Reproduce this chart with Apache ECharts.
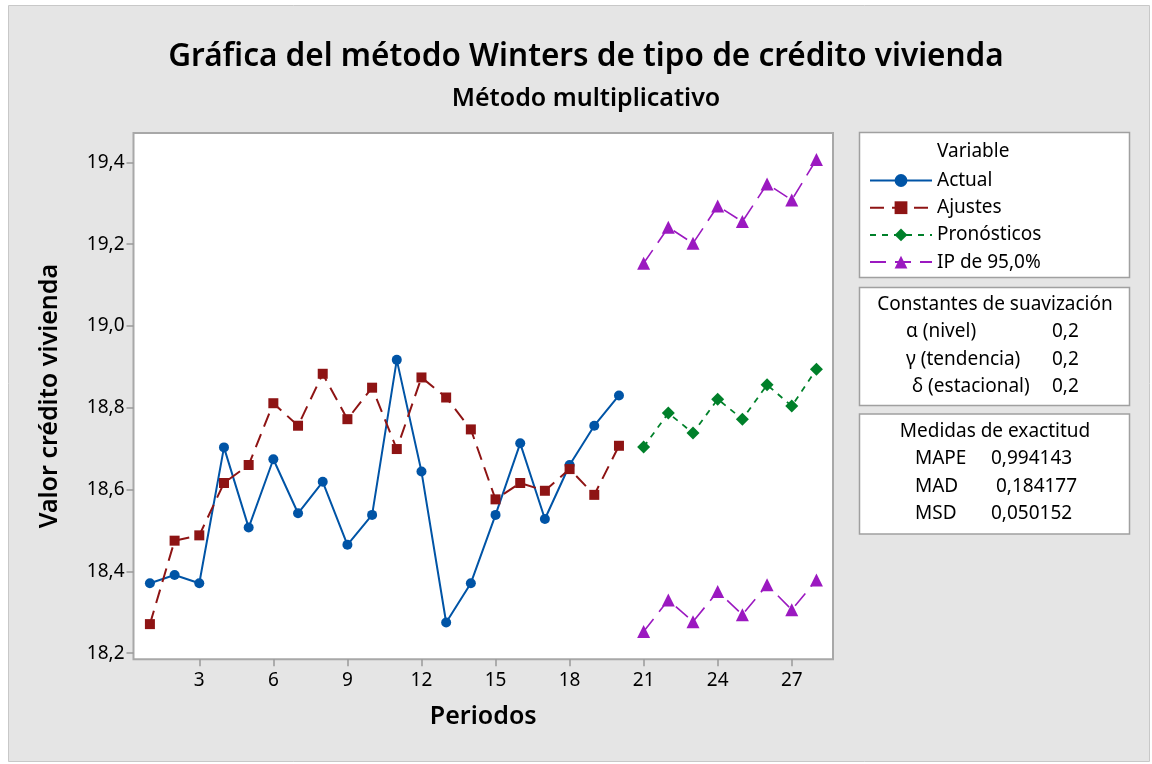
<!DOCTYPE html>
<html>
<head>
  <meta charset="utf-8">
  <title>Winters crédito vivienda</title>
  <script src="https://cdn.jsdelivr.net/npm/echarts@6/dist/echarts.min.js"></script>
  <style>
    html, body { margin: 0; padding: 0; background: #ffffff; }
    #chart { width: 1152px; height: 764px; }
  </style>
</head>
<body>
  <div id="chart"></div>
  <script>
    // datos
    var periodsFit = [1, 2, 3, 4, 5, 6, 7, 8, 9, 10, 11, 12, 13, 14, 15, 16, 17, 18, 19, 20];
    var periodsFc = [21, 22, 23, 24, 25, 26, 27, 28];
    var actual = [18.371, 18.391, 18.371, 18.703, 18.507, 18.674, 18.542, 18.619, 18.465, 18.538,
                  18.917, 18.644, 18.275, 18.371, 18.538, 18.713, 18.528, 18.660, 18.756, 18.830];
    var fits = [18.271, 18.475, 18.488, 18.616, 18.660, 18.811, 18.756, 18.883, 18.772, 18.849,
                18.699, 18.874, 18.825, 18.747, 18.576, 18.616, 18.597, 18.650, 18.587, 18.707];
    var forecast = [18.704, 18.787, 18.738, 18.821, 18.772, 18.856, 18.804, 18.894];
    var upper = [19.153, 19.241, 19.202, 19.293, 19.255, 19.347, 19.308, 19.407];
    var lower = [18.253, 18.330, 18.277, 18.351, 18.294, 18.367, 18.306, 18.379];
    var xTicks = [3, 6, 9, 12, 15, 18, 21, 24, 27];
    var yTicks = [18.2, 18.4, 18.6, 18.8, 19.0, 19.2, 19.4];
    var smoothing = [['α (nivel)', '0,2'], ['γ (tendencia)', '0,2'], ['δ (estacional)', '0,2']];
    var accuracy = [['MAPE', '0,994143'], ['MAD', ' 0,184177'], ['MSD', '0,050152']];

    var FONT = "'Noto Sans', 'Open Sans', sans-serif";
    var BOXFONT = '19px ' + FONT;

    function pairs(xs, ys) {
      var out = [];
      for (var i = 0; i < xs.length; i++) out.push([xs[i], ys[i]]);
      return out;
    }

    var chart = echarts.init(document.getElementById('chart'));

    // cajas de la derecha
    var graphics = [
      { type: 'rect', z: -100, shape: { x: 8.5, y: 5.5, width: 1141, height: 756 },
        style: { fill: '#e5e5e5', stroke: '#c8c8c8', lineWidth: 1 } },
      { type: 'rect', shape: { x: 859.5, y: 132.5, width: 270, height: 145 },
        style: { fill: '#fff', stroke: '#a0a0a0', lineWidth: 1.5 } },
      { type: 'rect', shape: { x: 859.5, y: 287.5, width: 270, height: 118 },
        style: { fill: '#fff', stroke: '#a0a0a0', lineWidth: 1.5 } },
      { type: 'rect', shape: { x: 859.5, y: 414, width: 270, height: 120 },
        style: { fill: '#fff', stroke: '#a0a0a0', lineWidth: 1.5 } },
      { type: 'text', x: 937, y: 152, z: 10,
        style: { text: 'Variable', font: BOXFONT, fill: '#000', verticalAlign: 'middle' } },
      { type: 'text', x: 995, y: 305, z: 10,
        style: { text: 'Constantes de suavización', font: BOXFONT, fill: '#000', align: 'center', verticalAlign: 'middle' } },
      { type: 'text', x: 995, y: 432, z: 10,
        style: { text: 'Medidas de exactitud', font: BOXFONT, fill: '#000', align: 'center', verticalAlign: 'middle' } }
    ];
    var smX = [906, 906, 912];
    for (var i = 0; i < smoothing.length; i++) {
      graphics.push({ type: 'text', x: smX[i], y: 332 + i * 27.5, z: 10,
        style: { text: smoothing[i][0], font: BOXFONT, fill: '#000', verticalAlign: 'middle' } });
      graphics.push({ type: 'text', x: 1052, y: 332 + i * 27.5, z: 10,
        style: { text: smoothing[i][1], font: BOXFONT, fill: '#000', verticalAlign: 'middle' } });
    }
    for (var j = 0; j < accuracy.length; j++) {
      graphics.push({ type: 'text', x: 915, y: 459 + j * 27.5, z: 10,
        style: { text: accuracy[j][0], font: BOXFONT, fill: '#000', verticalAlign: 'middle' } });
      graphics.push({ type: 'text', x: 991, y: 459 + j * 27.5, z: 10,
        style: { text: accuracy[j][1], font: BOXFONT, fill: '#000', verticalAlign: 'middle' } });
    }

    var option = {
      backgroundColor: '#ffffff',
      animation: false,
      textStyle: { fontFamily: FONT },
      title: [
        { text: 'Gráfica del método Winters de tipo de crédito vivienda', left: 581, top: 36, textAlign: 'center',
          textStyle: { fontSize: 31.5, fontWeight: 600, color: '#000', fontFamily: FONT } },
        { text: 'Método multiplicativo', left: 581, top: 81, textAlign: 'center',
          textStyle: { fontSize: 25, fontWeight: 600, color: '#000', fontFamily: FONT } }
      ],
      grid: {
        left: 133.5, top: 133, width: 699.5, height: 526.3,
        show: true, backgroundColor: '#ffffff', borderColor: '#a8a8a8', borderWidth: 2
      },
      legend: {
        orient: 'vertical', left: 864, top: 166,
        itemWidth: 62, itemHeight: 16, itemGap: 8.2,
        textStyle: { fontSize: 19, color: '#000', fontFamily: FONT },
        data: ['Actual', 'Ajustes', 'Pronósticos', 'IP de 95,0%']
      },
      xAxis: {
        type: 'value', min: 0.335, max: 28.67,
        name: 'Periodos', nameLocation: 'middle', nameGap: 45,
        nameTextStyle: { fontSize: 25, fontWeight: 600, color: '#000', fontFamily: FONT },
        axisLine: { show: false },
        axisTick: { show: true, length: 7, lineStyle: { color: '#999', width: 1.5 }, customValues: xTicks },
        axisLabel: { fontSize: 19, color: '#000', margin: 12, customValues: xTicks, fontFamily: FONT },
        splitLine: { show: false }
      },
      yAxis: {
        type: 'value', min: 18.185, max: 19.4716,
        name: 'Valor crédito vivienda', nameLocation: 'middle', nameGap: 71,
        nameTextStyle: { fontSize: 25, fontWeight: 600, color: '#000', fontFamily: FONT },
        axisLine: { show: false },
        axisTick: { show: true, length: 7, lineStyle: { color: '#999', width: 1.5 }, customValues: yTicks },
        axisLabel: {
          fontSize: 19, color: '#000', margin: 9, customValues: yTicks, fontFamily: FONT,
          formatter: function (v) { return v.toFixed(1).replace('.', ','); }
        },
        splitLine: { show: false }
      },
      series: [
        {
          name: 'Actual', type: 'line', data: pairs(periodsFit, actual),
          symbol: 'circle', symbolSize: 10,
          lineStyle: { color: '#0054a6', width: 2 },
          itemStyle: { color: '#0054a6' }
        },
        {
          name: 'Ajustes', type: 'line', data: pairs(periodsFit, fits),
          symbol: 'rect', symbolSize: 10,
          lineStyle: { color: '#8e1414', width: 2, type: [14, 8] },
          itemStyle: { color: '#8e1414' }
        },
        {
          name: 'Pronósticos', type: 'line', data: pairs(periodsFc, forecast),
          symbol: 'diamond', symbolSize: 13,
          lineStyle: { color: '#00802a', width: 1.8, type: [6, 6] },
          itemStyle: { color: '#00802a' }
        },
        {
          name: 'IP de 95,0%', type: 'line', data: pairs(periodsFc, upper),
          symbol: 'triangle', symbolSize: 13,
          lineStyle: { color: '#9b19c0', width: 1.6, type: [16, 9] },
          itemStyle: { color: '#9b19c0' }
        },
        {
          name: 'IP de 95,0%', type: 'line', data: pairs(periodsFc, lower),
          symbol: 'triangle', symbolSize: 13,
          lineStyle: { color: '#9b19c0', width: 1.6, type: [16, 9] },
          itemStyle: { color: '#9b19c0' }
        }
      ],
      graphic: graphics
    };

    chart.setOption(option);
  </script>
</body>
</html>
